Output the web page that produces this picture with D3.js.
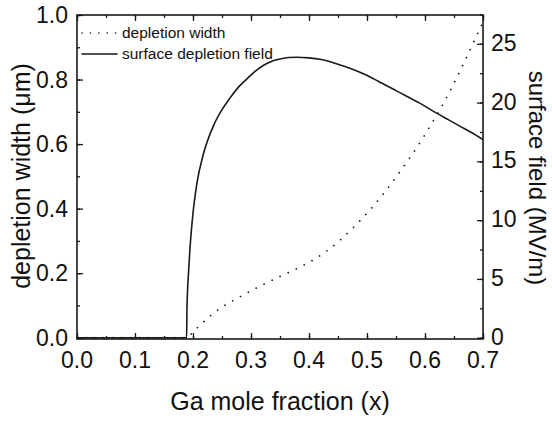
<!DOCTYPE html>
<html>
<head>
<meta charset="utf-8">
<script src="https://cdn.jsdelivr.net/npm/d3@7"></script>
<style>
body { margin: 0; background: #fff; }
text { font-family: "Liberation Sans", Arial, sans-serif; fill: #111; }
</style>
</head>
<body>
<div id="chart"></div>
<script>
var width = 552;
var height = 422;

// surface depletion field (MV/m), right axis
var fieldX = [0, 0.189, 0.1895, 0.1905, 0.192, 0.1948, 0.1994, 0.2063, 0.2178, 0.235, 0.25, 0.264, 0.28, 0.2926, 0.307, 0.321, 0.335, 0.35, 0.365, 0.379, 0.40, 0.419, 0.435, 0.4534, 0.4737, 0.4937, 0.52, 0.545, 0.57, 0.591, 0.62, 0.64, 0.66, 0.68, 0.70];
var fieldY = [0, 0, 2.2, 3.9, 5.3, 7.6, 10.3, 13.0, 15.6, 18.0, 19.4, 20.4, 21.4, 22.0, 22.65, 23.15, 23.5, 23.7, 23.83, 23.86, 23.8, 23.68, 23.5, 23.2, 22.85, 22.45, 21.8, 21.15, 20.5, 19.95, 19.1, 18.55, 18.0, 17.45, 16.85];

// depletion width (um), left axis
var widthX = [0, 0.19, 0.2, 0.235, 0.2926, 0.35, 0.38, 0.41, 0.43, 0.4534, 0.479, 0.505, 0.531, 0.553, 0.574, 0.594, 0.6115, 0.629, 0.644, 0.659, 0.673, 0.687, 0.70];
var widthY = [0, 0, 0.018, 0.075, 0.138, 0.19, 0.215, 0.244, 0.268, 0.302, 0.346, 0.396, 0.452, 0.505, 0.558, 0.612, 0.664, 0.717, 0.768, 0.822, 0.874, 0.928, 0.978];

var xTicks = [0, 0.1, 0.2, 0.3, 0.4, 0.5, 0.6, 0.7];
var yLeftTicks = [0, 0.2, 0.4, 0.6, 0.8, 1.0];
var yRightTicks = [0, 5, 10, 15, 20, 25];
var legendLabels = ["depletion width", "surface depletion field"];

var plot = {left: 77, right: 483, top: 15, bottom: 339};

var svg = d3.select("#chart")
    .append("svg")
    .attr("width", width)
    .attr("height", height)

var x = d3.scaleLinear().domain([0, 0.7]).range([plot.left, plot.right]);
var yL = d3.scaleLinear().domain([-0.004, 1.0]).range([plot.bottom, plot.top]);
var yR = d3.scaleLinear().domain([-0.004 * 27.45, 27.45]).range([plot.bottom, plot.top]);

var ink = "#1a1a1a";

// lines
var fieldLine = d3.line()
    .x(function(d, i) { return x(fieldX[i]) })
    .y(function(d, i) { return yR(fieldY[i]) })
    .curve(d3.curveMonotoneX);
var widthLine = d3.line()
    .x(function(d, i) { return x(widthX[i]) })
    .y(function(d, i) { return yL(widthY[i]) })
    .curve(d3.curveMonotoneX);

svg.append("path")
    .attr("d", widthLine(widthX))
    .attr("fill", "none")
    .attr("stroke", ink)
    .attr("stroke-width", 1.7)
    .attr("stroke-linecap", "round")
    .attr("stroke-dasharray", "0.1,8.8")

svg.append("path")
    .attr("d", fieldLine(fieldX))
    .attr("fill", "none")
    .attr("stroke", ink)
    .attr("stroke-width", 1.6)

// axes, ticks inward on all four sides
function minor(a, b, step) {
    return d3.range(a, b + step / 2, step);
}
svg.append("g").attr("transform", "translate(0," + plot.bottom + ")")
    .call(d3.axisTop(x).tickValues(minor(0, 0.7, 0.05)).tickSize(3).tickFormat(""));
svg.append("g").attr("transform", "translate(0," + plot.bottom + ")")
    .call(d3.axisTop(x).tickValues(xTicks).tickSize(6).tickFormat(""));
svg.append("g").attr("transform", "translate(0," + plot.top + ")")
    .call(d3.axisBottom(x).tickValues(minor(0, 0.7, 0.05)).tickSize(3).tickFormat(""));
svg.append("g").attr("transform", "translate(0," + plot.top + ")")
    .call(d3.axisBottom(x).tickValues(xTicks).tickSize(6).tickFormat(""));
svg.append("g").attr("transform", "translate(" + plot.left + ",0)")
    .call(d3.axisRight(yL).tickValues(minor(0, 1, 0.1)).tickSize(3).tickFormat(""));
svg.append("g").attr("transform", "translate(" + plot.left + ",0)")
    .call(d3.axisRight(yL).tickValues(yLeftTicks).tickSize(6).tickFormat(""));
svg.append("g").attr("transform", "translate(" + plot.right + ",0)")
    .call(d3.axisLeft(yR).tickValues(minor(0, 27, 2.5)).tickSize(3).tickFormat(""));
svg.append("g").attr("transform", "translate(" + plot.right + ",0)")
    .call(d3.axisLeft(yR).tickValues(yRightTicks).tickSize(6).tickFormat(""));

svg.selectAll(".domain").remove();
svg.selectAll(".tick line").attr("stroke", ink).attr("stroke-width", 1.3);

svg.append("rect")
    .attr("x", plot.left).attr("y", plot.top)
    .attr("width", plot.right - plot.left).attr("height", plot.bottom - plot.top)
    .attr("fill", "none").attr("stroke", ink).attr("stroke-width", 1.6)

// tick labels
svg.selectAll(".xl").data(xTicks).enter().append("text")
    .attr("x", function(d) { return x(d) })
    .attr("y", plot.bottom + 29)
    .attr("text-anchor", "middle")
    .attr("font-size", 23)
    .text(function(d) { return d3.format(".1f")(d) })
svg.selectAll(".yl").data(yLeftTicks).enter().append("text")
    .attr("x", plot.left - 9)
    .attr("y", function(d) { return yL(d) + 8 })
    .attr("text-anchor", "end")
    .attr("font-size", 23)
    .text(function(d) { return d3.format(".1f")(d) })
svg.selectAll(".yr").data(yRightTicks).enter().append("text")
    .attr("x", plot.right + 8)
    .attr("y", function(d) { return yR(d) + 7 })
    .attr("text-anchor", "start")
    .attr("font-size", 23)
    .text(function(d) { return d })

// axis titles
svg.append("text")
    .attr("x", 280).attr("y", 410)
    .attr("text-anchor", "middle").attr("font-size", 25)
    .text("Ga mole fraction (x)")
svg.append("text")
    .attr("transform", "translate(30,176) rotate(-90)")
    .attr("text-anchor", "middle").attr("font-size", 25)
    .text("depletion width (\u03bcm)")
svg.append("text")
    .attr("transform", "translate(529,178) rotate(90)")
    .attr("text-anchor", "middle").attr("font-size", 24)
    .text("surface field (MV/m)")

// legend
var leg = svg.append("g");
leg.selectAll("line").data(legendLabels).enter().append("line")
    .attr("x1", 82).attr("x2", 117)
    .attr("y1", function(d, i) { return 33 + i * 21 })
    .attr("y2", function(d, i) { return 33 + i * 21 })
    .attr("stroke", ink).attr("stroke-width", 1.6)
    .attr("stroke-linecap", "round")
    .attr("stroke-dasharray", function(d, i) { return i == 0 ? "0.1,8.3" : null })
leg.selectAll("text").data(legendLabels).enter().append("text")
    .attr("x", 122)
    .attr("y", function(d, i) { return 38 + i * 21 })
    .attr("font-size", 15.5)
    .text(function(d) { return d })
</script>
</body>
</html>
